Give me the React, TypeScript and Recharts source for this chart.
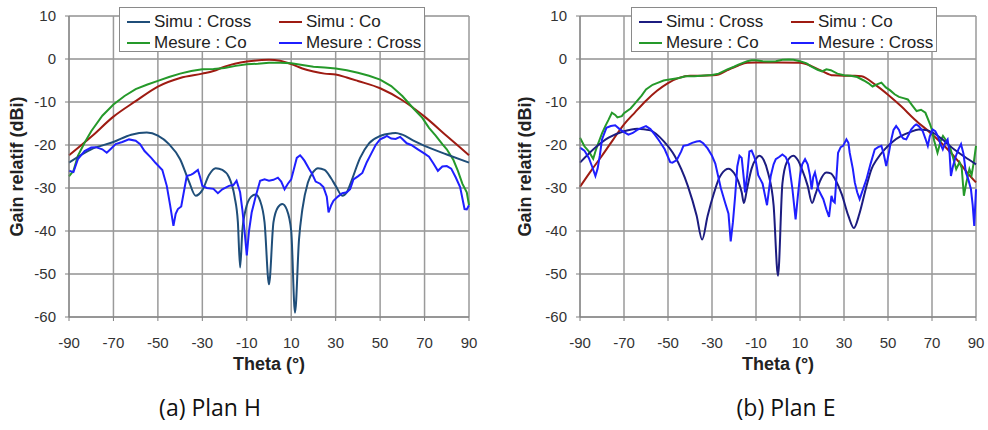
import { LineChart, Line, XAxis, YAxis, CartesianGrid, Legend } from 'recharts';

const THETA_TICKS = [-90, -70, -50, -30, -10, 10, 30, 50, 70, 90];
const GAIN_TICKS = [-60, -50, -40, -30, -20, -10, 0, 10];

// Plan H : [theta, gain]
const hSimuCross = [
  [-90, -24.1], [-80, -21], [-70, -19.3], [-62, -17.6], [-55, -17.1], [-50, -17.8], [-45, -19.8],
  [-40, -23.3], [-36, -28.5], [-33, -31.8], [-30, -30.5], [-27, -27], [-24, -25.4], [-21, -25.8],
  [-18, -27.5], [-15.5, -32], [-14, -38], [-13, -48.5], [-12, -40], [-10.5, -35], [-8, -32],
  [-6, -31.5], [-4, -33], [-2, -38], [0, -52.4], [2, -38], [4, -34.5], [6, -33.7], [8, -35],
  [10, -40], [11.7, -59], [13.5, -42], [15, -35], [17.5, -28.7], [20, -26.2], [22, -25.4],
  [25, -25.8], [28, -27.8], [30, -29.5], [33, -31.8], [35, -31], [37, -28.5], [41, -23],
  [45, -19.6], [50, -17.9], [55, -17.3], [57, -17.2], [60, -17.6], [65, -19], [70, -20.2],
  [80, -22.2], [90, -24.1],
];
const hSimuCo = [
  [-90, -22.4], [-80, -18.1], [-70, -13.4], [-60, -9.8], [-50, -6.4], [-40, -4.4], [-30, -3.4],
  [-25, -2.8], [-20, -1.8], [-10, -0.6], [0, -0.2], [5, -0.4], [10, -1.2], [15, -2.2], [20, -2.9],
  [25, -3.4], [30, -3.6], [35, -4.3], [40, -5.1], [50, -6.8], [60, -9.6], [70, -13.4],
  [80, -17.9], [90, -22.4],
];
const hMesureCo = [
  [-90, -27.3], [-88, -26], [-86, -22.5], [-83, -19.5], [-80, -16.8], [-75, -13.2], [-70, -10.6],
  [-65, -8.6], [-60, -7], [-55, -6], [-50, -5.1], [-45, -4.2], [-40, -3.4], [-35, -2.8],
  [-30, -2.4], [-25, -2.3], [-20, -2.1], [-15, -1.6], [-10, -1.2], [-5, -1.1], [0, -0.9],
  [5, -0.9], [10, -1], [15, -1.4], [20, -1.8], [25, -2], [30, -2.2], [35, -2.6], [40, -3.2],
  [45, -3.9], [50, -4.8], [55, -6.3], [60, -8.6], [65, -11.5], [69, -13.7], [72, -16],
  [75, -17.8], [78, -19.8], [80, -21], [83, -23.5], [85, -26], [87, -29], [89, -31], [90, -34],
];
const hMesureCross = [
  [-90, -26], [-88, -26.3], [-86, -23.3], [-83, -21.4], [-80, -20.6], [-78, -20.5], [-75, -21],
  [-73, -21.8], [-71, -20.8], [-69, -19.8], [-66, -19.3], [-63, -18.7], [-60, -19], [-58, -19.8],
  [-56, -21.4], [-53, -23], [-51, -24.2], [-48, -25.8], [-46, -29.5], [-44.5, -34], [-43, -38.8],
  [-42, -36], [-41, -34.9], [-39.5, -34.3], [-38, -30], [-37, -27.2], [-35, -26.9], [-34, -26.6],
  [-32, -25.8], [-31, -27.5], [-30, -29.5], [-28, -30], [-25, -30.2], [-23, -31.2], [-21, -30.3],
  [-18, -29.5], [-16, -29.3], [-14.6, -28.3], [-13, -31], [-12, -35], [-11, -40], [-10, -45.7],
  [-9, -40], [-7.8, -35.7], [-6, -32], [-4, -28.3], [-2, -28], [0, -28.3], [2, -28.1], [4, -27.6],
  [5.5, -28.5], [7, -30.3], [8.5, -29], [10, -28], [11.5, -25], [12.5, -23], [14, -22.4],
  [15, -23], [16, -23.7], [18, -25.5], [19.5, -26.8], [21, -28.5], [23, -29], [24.5, -29.8],
  [26, -32], [26.8, -35.7], [28, -34], [29, -33], [31, -32], [33, -31.2], [35, -31], [36.5, -30.3],
  [38, -28], [40, -27.3], [42, -26.5], [44, -24], [46, -22], [48, -20], [50, -18.7], [52, -18.2],
  [53, -17.9], [55, -18.5], [57, -18.6], [59, -18.1], [60, -18.6], [62, -19.6], [64, -20],
  [67, -21], [70, -22], [72, -22.7], [74, -24.3], [76, -26], [78, -25], [80, -24.9], [82, -25.5],
  [84, -27.5], [86, -29.8], [88, -34.9], [89, -35], [90, -34],
];

// Plan E : [theta, gain]
const eSimuCross = [
  [-90, -24.1], [-83, -20.6], [-77, -18.3], [-70, -16.8], [-64, -16.2], [-58, -16.6], [-52, -19.1],
  [-47, -22.5], [-41, -29.5], [-37, -36.4], [-34.5, -42], [-32, -36.5], [-29, -31], [-27, -28],
  [-24, -25.8], [-22.5, -25.5], [-20, -26.5], [-18, -28.5], [-16.5, -31], [-15.5, -33.5],
  [-14, -30], [-12, -25.5], [-10, -23.2], [-8.5, -22.5], [-6.5, -23.5], [-4.5, -26.5], [-2, -34],
  [0, -50.4], [2, -29], [4, -24], [7, -22.5], [9, -23.5], [11, -25.8], [13.5, -29.5],
  [15.5, -33.5], [17, -31.5], [19, -28.5], [22, -26.4], [24, -26.6], [26, -28], [29, -31.5],
  [32, -36.5], [34.5, -39.3], [37, -36], [40, -30], [42.5, -25.6], [45, -23.3], [48.5, -21],
  [52, -19.3], [56, -17.9], [60, -17], [64, -16.4], [68, -16.6], [74, -18.4], [80, -21],
  [85, -22.8], [90, -24.5],
];
const eSimuCo = [
  [-90, -29.7], [-85, -26], [-80, -22.5], [-75, -18.8], [-70, -15.2], [-65, -12.4], [-60, -9.7],
  [-55, -7.4], [-50, -5.6], [-45, -4.4], [-40, -3.9], [-35, -3.9], [-30, -3.8], [-27, -3.6],
  [-23, -2.6], [-18, -1.5], [-14, -0.9], [-10, -0.8], [0, -0.8], [10, -0.9], [15, -1.6],
  [20, -2.8], [25, -3.8], [30, -3.9], [35, -3.9], [38, -4], [44, -5.9], [50, -8.3], [56, -11],
  [62, -14], [70, -17.5], [76, -20.4], [82, -23.8], [86, -26.4], [90, -28.7],
];
const eMesureCo = [
  [-90, -18.3], [-88, -20.3], [-86, -21.5], [-84, -23.2], [-83, -21.5], [-82, -20], [-80, -17.3],
  [-78.5, -15.6], [-77, -14.1], [-75.5, -12.5], [-74, -13], [-73, -13.6], [-71, -13.3],
  [-70, -12.6], [-67, -11.5], [-65, -10.3], [-62, -8.5], [-60, -7.1], [-57, -6], [-55, -5.6],
  [-52, -5], [-50, -4.8], [-45, -4.4], [-42, -4], [-38, -4], [-35, -3.9], [-30, -3.7],
  [-27, -3.4], [-23, -2.4], [-20, -1.8], [-18, -1.3], [-14, -0.5], [-12, -0.3], [-10, -0.3],
  [-7, -0.5], [-4, -0.6], [-1, -0.5], [2, -0.2], [5, -0.1], [7, -0.2], [10, -0.5], [13, -1],
  [15, -1.7], [18, -2.5], [20, -2.9], [22, -2.4], [24, -2.6], [27, -3.4], [30, -3.8], [33, -3.9],
  [36, -4.2], [39, -5], [41, -5.6], [43, -6.4], [45, -5.9], [47, -5.5], [49, -6.6], [51, -7.3],
  [53, -8.2], [55, -8.8], [57, -9.1], [59, -9.4], [61, -10.8], [63, -12.1], [65, -11.8],
  [67, -12.5], [69, -15], [70, -16.5], [71, -19], [72.5, -21.8], [74, -19], [75, -17.9],
  [76.5, -19], [78, -20.2], [79.5, -22.8], [81, -25.6], [82.5, -24], [83.5, -25.3],
  [84.5, -31.8], [85.5, -29], [87, -25.6], [88, -27], [89, -24], [90, -20.2],
];
const eMesureCross = [
  [-90, -20.6], [-88, -21.3], [-86, -23], [-84.5, -25], [-83, -27.2], [-82, -25.5], [-81, -22.5],
  [-80, -18.7], [-78, -16], [-76, -15.6], [-74, -15.4], [-72, -16.3], [-70, -17], [-68, -17.6],
  [-66, -17.2], [-64, -16.5], [-62, -16], [-60, -15.6], [-58, -16.3], [-56, -17.6], [-54, -19],
  [-51.5, -21], [-49, -24], [-48, -24.1], [-46, -23.5], [-44, -21.5], [-43, -20.2], [-41, -20],
  [-39, -19.5], [-37, -19.2], [-35.5, -19.1], [-34, -19.6], [-32, -20.8], [-30, -22.5],
  [-28.5, -24.3], [-26, -30], [-24, -33.5], [-22.5, -36], [-21.5, -42.4], [-20.5, -38],
  [-19.5, -32], [-18.5, -25], [-17.5, -22.5], [-16.5, -23], [-15.5, -28], [-15, -31], [-14, -27],
  [-13, -21.5], [-12, -21.3], [-11, -22.5], [-10, -24], [-9, -27], [-8, -28], [-7, -29],
  [-6, -31.5], [-5, -34], [-4, -30], [-3.3, -27.2], [-2, -24.5], [-1, -23.3], [0.5, -22.8],
  [2, -22.2], [3.5, -22.8], [5, -24.5], [6.5, -30], [8, -37.3], [9, -32], [10, -27.2],
  [11, -24.5], [12.3, -23.3], [13.5, -24.5], [14.5, -27], [15.3, -30.3], [16, -27.5],
  [16.8, -26.4], [17.5, -28], [18.3, -30.3], [19.5, -31.5], [20.6, -32.6], [22, -35],
  [23.2, -36.7], [24.3, -31.8], [25, -33], [25.8, -33.4], [26.5, -28], [27.3, -21.8],
  [28.5, -20.5], [29.6, -20.2], [31.1, -18.7], [32, -19.5], [32.6, -21.8], [34, -25.5],
  [34.9, -28.7], [36, -31], [37.1, -32.6], [38.5, -30.5], [40.2, -28], [42, -24.5], [44, -21],
  [45.5, -20.5], [47, -20.2], [48, -22], [49.2, -24.9], [50.5, -21.5], [51.5, -18.7],
  [52.5, -16.5], [53.7, -15.6], [55, -16.5], [56, -17.9], [57, -18.5], [58.3, -18.7],
  [59.5, -17.5], [60.5, -16.4], [62, -15.5], [62.8, -15.2], [64, -15.6], [65.8, -16.8],
  [67, -18.5], [68.1, -20.2], [69, -18], [70.3, -16.4], [71.5, -16.8], [72.6, -17.9], [74, -20],
  [74.9, -21], [76, -19.5], [77.1, -18.7], [78, -22], [78.6, -27.2], [79.5, -25], [80.9, -22.5],
  [82, -21], [83.2, -19.8], [84.3, -22], [85.4, -26.4], [86.5, -28], [87.7, -30.3], [88.5, -34],
  [89.2, -38.8], [90, -30.3],
];

const CO_SIMU_COLOR = '#9E1B12';
const CO_MESURE_COLOR = '#25992A';
const CROSS_MESURE_COLOR = '#1F1FFF';

const FONT = '"Liberation Sans", Arial, sans-serif';

const toPoints = (pairs: number[][]) => pairs.map(([theta, gain]) => ({ theta, gain }));

interface PlanChartProps {
  simuCross: number[][];
  simuCo: number[][];
  mesureCo: number[][];
  mesureCross: number[][];
  crossColor: string;
  margin: { top: number; right: number; bottom: number; left: number };
  yAxisWidth: number;
  legendLeft: number;
}

function PlanChart({
  simuCross,
  simuCo,
  mesureCo,
  mesureCross,
  crossColor,
  margin,
  yAxisWidth,
  legendLeft,
}: PlanChartProps) {
  // legend order follows the original figure
  const series = [
    { name: 'Simu : Cross', color: crossColor, data: simuCross, smooth: true },
    { name: 'Simu : Co', color: CO_SIMU_COLOR, data: simuCo, smooth: true },
    { name: 'Mesure : Co', color: CO_MESURE_COLOR, data: mesureCo, smooth: false },
    { name: 'Mesure : Cross', color: CROSS_MESURE_COLOR, data: mesureCross, smooth: false },
  ];
  // draw order: co curves under cross curves
  const drawOrder = [series[1], series[2], series[0], series[3]];

  const renderLegend = () => (
    <div
      style={{
        width: 306,
        height: 45,
        border: '1px solid #8a8a8a',
        background: '#fff',
        display: 'grid',
        gridTemplateColumns: '152px 152px',
        gridTemplateRows: '21px 21px',
        paddingTop: 3,
        boxSizing: 'border-box',
        fontFamily: FONT,
        fontSize: 17,
        color: '#222',
      }}
    >
      {series.map((s) => (
        <div key={s.name} style={{ display: 'flex', alignItems: 'center', paddingLeft: 7, whiteSpace: 'nowrap' }}>
          <span style={{ display: 'inline-block', width: 23, height: 2, background: s.color, marginRight: 4 }} />
          <span>{s.name}</span>
        </div>
      ))}
    </div>
  );

  return (
    <LineChart width={494} height={380} margin={margin}>
      <CartesianGrid vertical={false} stroke="#5a5a5a" strokeWidth={1} />
      <CartesianGrid horizontal={false} stroke="#9a9a9a" strokeWidth={1.5} />
      <XAxis
        dataKey="theta"
        type="number"
        domain={[-90, 90]}
        ticks={THETA_TICKS}
        interval={0}
        allowDuplicatedCategory={false}
        stroke="#808080"
        tickSize={4}
        tickMargin={16}
        height={55}
        tick={{ fill: '#333', fontSize: 15, fontFamily: FONT }}
        label={{
          value: 'Theta (°)',
          position: 'insideBottom',
          offset: 2,
          style: { fontFamily: FONT, fontSize: 18, fontWeight: 'bold', fill: '#222' },
        }}
      />
      <YAxis
        type="number"
        domain={[-60, 10]}
        ticks={GAIN_TICKS}
        interval={0}
        stroke="#808080"
        tickSize={4}
        tickMargin={9}
        width={yAxisWidth}
        tick={{ fill: '#333', fontSize: 15, fontFamily: FONT }}
        label={{
          value: 'Gain relatif (dBi)',
          angle: -90,
          position: 'insideLeft',
          offset: 13,
          style: { textAnchor: 'middle', fontFamily: FONT, fontSize: 18, fontWeight: 'bold', fill: '#222' },
        }}
      />
      <Legend
        layout="horizontal"
        verticalAlign="middle"
        align="center"
        content={renderLegend}
        wrapperStyle={{ left: legendLeft, top: 7, width: 306 }}
      />
      {drawOrder.map((s) => (
        <Line
          key={s.name}
          name={s.name}
          data={toPoints(s.data)}
          dataKey="gain"
          type={s.smooth ? 'monotone' : 'linear'}
          stroke={s.color}
          strokeWidth={2}
          dot={false}
          activeDot={false}
          isAnimationActive={false}
        />
      ))}
    </LineChart>
  );
}

export default function App() {
  return (
    <div style={{ position: 'absolute', left: 0, top: 0, width: 988, height: 430, background: '#fff' }}>
      <div style={{ position: 'absolute', left: 0, top: 0 }}>
        <PlanChart
          simuCross={hSimuCross}
          simuCo={hSimuCo}
          mesureCo={hMesureCo}
          mesureCross={hMesureCross}
          crossColor="#1F4E79"
          margin={{ top: 16, right: 25, bottom: 8, left: 4 }}
          yAxisWidth={65}
          legendLeft={119}
        />
      </div>
      <div style={{ position: 'absolute', left: 494, top: 0 }}>
        <PlanChart
          simuCross={eSimuCross}
          simuCo={eSimuCo}
          mesureCo={eMesureCo}
          mesureCross={eMesureCross}
          crossColor="#1C1C80"
          margin={{ top: 16, right: 12, bottom: 8, left: 18 }}
          yAxisWidth={68}
          legendLeft={137}
        />
      </div>
      <div
        style={{
          position: 'absolute',
          top: 391,
          left: 110,
          width: 200,
          textAlign: 'center',
          fontFamily: '"Open Sans", sans-serif',
          fontSize: 23,
          color: '#111',
        }}
      >
        (a) Plan H
      </div>
      <div
        style={{
          position: 'absolute',
          top: 391,
          left: 686,
          width: 200,
          textAlign: 'center',
          fontFamily: '"Open Sans", sans-serif',
          fontSize: 23,
          color: '#111',
        }}
      >
        (b) Plan E
      </div>
    </div>
  );
}
